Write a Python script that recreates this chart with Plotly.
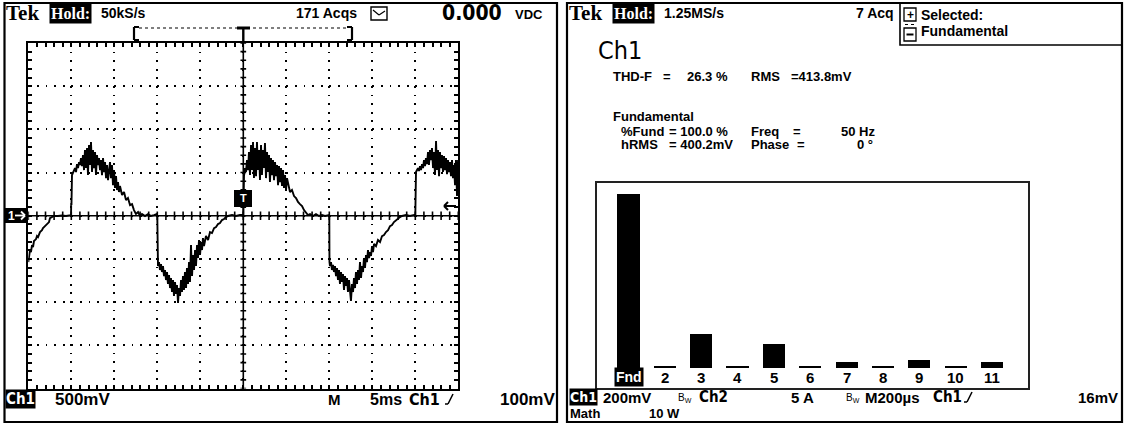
import plotly.graph_objects as go

W, H = 1124, 425
FONT = "Liberation Sans"
SERIF = "Liberation Serif"
NARROW = "Liberation Sans Narrow, DejaVu Sans Condensed, Liberation Sans"

# ---------------- data: scope trace (time ms, voltage mV) ----------------
seg_tail = [(0.00, -536), (0.08, -466), (0.20, -397), (0.31, -420), (0.43, -339), (0.55, -362),
            (0.66, -293), (0.90, -270), (1.01, -235), (1.13, -247), (1.36, -189), (1.59, -166),
            (1.71, -143), (1.94, -120), (2.17, -96), (2.41, -73), (2.52, -27), (2.76, -15),
            (2.99, -3), (3.45, -3), (3.92, 2), (4.38, -3), (4.91, 8)]

seg_pos1 = [(4.97, 8), (4.99, 147), (5.02, 124), (5.08, 471), (5.20, 506), (5.31, 529), (5.43, 552),
            (5.55, 506), (5.66, 598), (5.78, 552), (5.90, 621), (6.01, 587), (6.13, 668), (6.24, 575),
            (6.36, 702), (6.48, 529), (6.59, 760), (6.71, 552), (6.83, 783), (6.94, 471), (7.06, 818),
            (7.17, 587), (7.29, 853), (7.41, 506), (7.52, 760), (7.64, 552), (7.76, 737), (7.87, 471),
            (7.99, 702), (8.10, 587), (8.22, 668), (8.34, 529), (8.45, 645), (8.57, 471), (8.69, 668),
            (8.80, 506), (8.92, 621), (9.04, 436), (9.15, 587), (9.27, 413), (9.39, 552), (9.50, 621),
            (9.62, 436), (9.73, 587), (9.85, 355), (9.97, 529), (10.08, 321), (10.20, 459),
            (10.31, 298), (10.43, 390), (10.55, 275), (10.66, 344), (10.90, 240), (11.13, 275),
            (11.36, 182), (11.59, 205), (11.83, 124), (12.06, 135), (12.29, 66), (12.52, 20),
            (12.76, 43), (12.99, -3), (13.22, 20), (13.57, -3), (13.92, 20), (14.27, -3),
            (14.62, 8), (14.94, 20)]

seg_neg1 = [(15.00, -3), (15.02, -536), (15.08, -582), (15.20, -536), (15.31, -628), (15.43, -559),
            (15.55, -651), (15.66, -582), (15.78, -698), (15.90, -628), (16.01, -744), (16.13, -651),
            (16.24, -790), (16.36, -686), (16.48, -837), (16.59, -721), (16.71, -883), (16.83, -744),
            (16.94, -929), (17.06, -767), (17.17, -906), (17.29, -802), (17.41, -1010), (17.52, -837),
            (17.64, -929), (17.76, -744), (17.87, -883), (17.99, -698), (18.10, -860), (18.22, -651),
            (18.34, -837), (18.45, -605), (18.57, -790), (18.69, -536), (18.80, -767), (18.92, -339),
            (19.04, -698), (19.15, -455), (19.27, -628), (19.39, -397), (19.50, -582), (19.62, -339),
            (19.73, -489), (19.85, -281), (19.97, -455), (20.08, -304), (20.20, -397), (20.31, -258),
            (20.43, -351), (20.66, -235), (20.90, -281), (21.13, -189), (21.36, -200), (21.60, -143),
            (21.83, -131), (22.06, -96), (22.29, -85), (22.52, -50), (22.76, -38), (22.99, -15),
            (23.22, -3), (23.69, 8), (24.15, -3), (24.62, 8), (24.94, 8)]

seg_pos2 = [(25.00, -3), (25.02, 411), (25.08, 459), (25.20, 552), (25.31, 506), (25.43, 645),
            (25.55, 529), (25.66, 737), (25.78, 471), (25.90, 818), (26.01, 529), (26.13, 853),
            (26.24, 436), (26.36, 783), (26.48, 459), (26.59, 853), (26.71, 529), (26.83, 760),
            (26.94, 413), (27.06, 818), (27.17, 471), (27.29, 760), (27.41, 552), (27.52, 841),
            (27.64, 436), (27.76, 737), (27.87, 506), (27.99, 702), (28.10, 390), (28.22, 668),
            (28.34, 471), (28.45, 645), (28.57, 413), (28.69, 621), (28.80, 459), (28.92, 587),
            (29.04, 355), (29.15, 575), (29.27, 390), (29.39, 552), (29.50, 344), (29.62, 529),
            (29.73, 321), (29.85, 471), (29.97, 298), (30.08, 436), (30.20, 367), (30.43, 275),
            (30.66, 298), (30.90, 228), (31.13, 205), (31.36, 159), (31.59, 135), (31.83, 112),
            (32.06, 66), (32.29, 43), (32.52, 8), (32.76, 20), (33.10, -3), (33.45, 20), (33.80, -3),
            (34.15, 8), (34.50, -3), (34.97, 8)]

seg_neg2 = [(35.00, -3), (35.02, -536), (35.08, -582), (35.20, -536), (35.31, -628), (35.43, -570),
            (35.55, -651), (35.66, -582), (35.78, -698), (35.90, -605), (36.01, -744), (36.13, -628),
            (36.24, -790), (36.36, -651), (36.48, -767), (36.59, -674), (36.71, -860), (36.83, -698),
            (36.94, -813), (37.06, -721), (37.17, -883), (37.29, -744), (37.41, -860), (37.52, -987),
            (37.64, -790), (37.76, -883), (37.87, -721), (37.99, -837), (38.10, -651), (38.22, -790),
            (38.34, -628), (38.45, -744), (38.57, -536), (38.69, -721), (38.80, -582), (38.92, -651),
            (39.03, -489), (39.15, -605), (39.27, -455), (39.38, -536), (39.50, -397), (39.62, -489),
            (39.73, -420), (39.85, -466), (39.97, -351), (40.08, -420), (40.20, -327), (40.43, -351),
            (40.66, -281), (40.90, -304), (41.13, -235), (41.36, -223), (41.59, -189), (41.83, -166),
            (42.06, -120), (42.29, -108), (42.52, -73), (42.76, -50), (42.99, -27), (43.22, -15),
            (43.45, -3), (43.92, 8), (44.38, -3), (44.85, 8)]

seg_pos3 = [(45.00, -3), (45.02, 471), (45.08, 506), (45.20, 529), (45.31, 552), (45.43, 518),
            (45.55, 575), (45.66, 529), (45.78, 598), (45.90, 552), (46.01, 645), (46.13, 575),
            (46.24, 668), (46.36, 598), (46.48, 737), (46.59, 587), (46.71, 760), (46.83, 645),
            (46.94, 783), (47.06, 552), (47.17, 737), (47.29, 471), (47.41, 864), (47.52, 529),
            (47.64, 760), (47.76, 459), (47.87, 737), (47.99, 552), (48.10, 702), (48.22, 506),
            (48.34, 691), (48.45, 529), (48.57, 668), (48.69, 482), (48.80, 645), (48.92, 506),
            (49.03, 621), (49.15, 459), (49.27, 645), (49.38, 436), (49.50, 587), (49.62, 355),
            (49.73, 645), (49.85, 228), (49.97, 645), (50.00, 298)]

# ---------------- data: harmonic spectrum (% of fundamental) ----------------
harmonic_order = [1, 2, 3, 4, 5, 6, 7, 8, 9, 10, 11]
harmonic_labels = ["Fnd", "2", "3", "4", "5", "6", "7", "8", "9", "10", "11"]
harmonic_pct = [100, 0.9, 19.5, 0.9, 13.8, 0.9, 3.4, 0.9, 4.6, 0.9, 3.4]

# ---------------- layout constants (pixels) ----------------
GRID_L, GRID_R, GRID_T, GRID_B = 28.3, 458.3, 43.0, 388.5
BAR_L, BAR_R, BAR_T, BAR_B = 597, 1028, 183, 388
T_SPAN, V_HALF = 50, 2000


def px(x):
    return x / W


def py(y):
    return 1 - y / H


fig = go.Figure()

trace = seg_tail + seg_pos1 + seg_neg1 + seg_pos2 + seg_neg2 + seg_pos3
fig.add_trace(go.Scatter(x=[p[0] for p in trace], y=[p[1] for p in trace], mode="lines",
                         line=dict(color="black", width=1.9), xaxis="x", yaxis="y",
                         hoverinfo="skip", showlegend=False))

# centre cross with tick marks
cx, cy = [], []
cx += [T_SPAN / 2, T_SPAN / 2, None]
cy += [-V_HALF, V_HALF, None]
cx += [0, T_SPAN, None]
cy += [0, 0, None]
for k in range(-20, 21):
    cx += [T_SPAN / 2 - 0.33, T_SPAN / 2 + 0.33, None]
    cy += [k * 100, k * 100, None]
for k in range(0, 51):
    cx += [k, k, None]
    cy += [-50, 50, None]
fig.add_trace(go.Scatter(x=cx, y=cy, mode="lines", line=dict(color="black", width=1.6),
                         xaxis="x", yaxis="y", hoverinfo="skip", showlegend=False))

fig.add_trace(go.Bar(x=harmonic_order, y=harmonic_pct, marker=dict(color="black", line=dict(width=0)),
                     width=0.61, xaxis="x2", yaxis="y2", hoverinfo="skip", showlegend=False))

axis_common = dict(showticklabels=False, ticks="inside", ticklen=4, tickwidth=1.6, tickcolor="black",
                   showline=True, linecolor="black", linewidth=1.8, mirror="ticks",
                   showgrid=True, gridcolor="black", gridwidth=1.8, griddash="1.8px,6.8px",
                   zeroline=False, fixedrange=True)

slot = 36.35
x2_left = 1 - (628.5 - BAR_L) / slot
x2_right = x2_left + (BAR_R - BAR_L) / slot
ppu = (368 - 194) / 100.0
y2_bottom = -(BAR_B - 368) / ppu
y2_top = (368 - BAR_T) / ppu

fig.update_layout(
    width=W, height=H, margin=dict(l=0, r=0, t=0, b=0),
    paper_bgcolor="white", plot_bgcolor="white", bargap=0,
    xaxis=dict(domain=[px(GRID_L), px(GRID_R)], range=[0, T_SPAN], dtick=5, tick0=0,
               minor=dict(dtick=1, ticks="inside", ticklen=4, tickcolor="black", tickwidth=1.6, showgrid=False),
               **axis_common),
    yaxis=dict(domain=[py(GRID_B), py(GRID_T)], range=[-V_HALF, V_HALF], dtick=500, tick0=0,
               minor=dict(dtick=100, ticks="inside", ticklen=4, tickcolor="black", tickwidth=1.6, showgrid=False),
               **axis_common),
    xaxis2=dict(domain=[px(BAR_L), px(BAR_R)], range=[x2_left, x2_right], showticklabels=False,
                ticks="", showgrid=False, zeroline=False, showline=True, mirror=True,
                linecolor="#222", linewidth=1.5, fixedrange=True, anchor="y2"),
    yaxis2=dict(domain=[py(BAR_B), py(BAR_T)], range=[y2_bottom, y2_top], showticklabels=False,
                ticks="", showgrid=False, zeroline=False, showline=True, mirror=True,
                linecolor="#222", linewidth=1.5, fixedrange=True, anchor="x2"),
)

shapes = []


def rect(x0, y0, x1, y1, fill=None, lw=2, color="black"):
    shapes.append(dict(type="rect", xref="paper", yref="paper", x0=px(x0), x1=px(x1), y0=py(y1), y1=py(y0),
                       line=dict(color=color, width=lw), fillcolor=fill if fill else "rgba(0,0,0,0)",
                       layer="above"))


def seg(x0, y0, x1, y1, lw=1.5, dash=None, color="black"):
    shapes.append(dict(type="line", xref="paper", yref="paper", x0=px(x0), x1=px(x1), y0=py(y0), y1=py(y1),
                       line=dict(color=color, width=lw, dash=dash), layer="above"))


annots = []


def txt(x, y, s, size=13, color="black", bg=None, xanchor="left", family=FONT, bold=True, pad=0):
    annots.append(dict(x=px(x), y=py(y), xref="paper", yref="paper", text=("<b>%s</b>" % s) if bold else s,
                       showarrow=False, xanchor=xanchor, yanchor="middle",
                       font=dict(family=family, size=size, color=color),
                       bgcolor=bg if bg else "rgba(0,0,0,0)", borderpad=pad))


def slope(x, y):
    # rising-edge trigger symbol
    seg(x, y + 5, x + 3, y + 5, lw=1.5)
    seg(x + 3, y + 5, x + 8, y - 5, lw=1.5)


def arrow(x0, x1, y, color="black", lw=2):
    # horizontal arrow from x0 to x1 (head at x1)
    seg(x0, y, x1, y, lw=lw, color=color)
    d = 4 if x1 > x0 else -4
    seg(x1 - d, y - 4, x1, y, lw=lw, color=color)
    seg(x1 - d, y + 4, x1, y, lw=lw, color=color)


# panel borders
rect(4.5, 3, 557, 422, lw=2.2)
rect(567, 3, 1122, 422, lw=2.2)

# ---------------- left panel ----------------
txt(5, 13, "Tek", size=21, family=SERIF)
txt(49, 13, "Hold:", size=16, color="white", bg="black", family=SERIF, pad=1)
txt(100, 13, "50kS/s", size=14)
txt(295, 13, "171 Acqs", size=14)
rect(371, 7, 387, 20, lw=1.4)
seg(373, 10, 379, 15, lw=1.2)
seg(379, 15, 385, 11, lw=1.2)
txt(441, 13, "0.000", size=21, family=NARROW)
txt(514, 14, "VDC", size=13)

# trigger-window bracket
seg(134, 27, 134, 40, lw=2.2)
seg(134, 27, 139, 27, lw=2)
seg(134, 40, 139, 40, lw=2)
seg(352, 27, 352, 40, lw=2.2)
seg(347, 27, 352, 27, lw=2)
seg(347, 40, 352, 40, lw=2)
seg(139, 28, 347, 28, lw=1.2, dash="dot")
seg(237, 28, 250, 28, lw=3)
seg(243.3, 28, 243.3, 43, lw=2.4)

# channel marker and trigger markers
rect(5, 208, 27, 223, fill="black", lw=0)
txt(7, 215.5, "1", size=12, color="white")
arrow(15, 25, 215.5, color="white", lw=1.8)
rect(234, 190, 252, 207, fill="black", lw=0)
txt(243, 198, "T", size=11, color="white", xanchor="center")
arrow(456, 444, 206, lw=2)

txt(5, 399, "Ch1", size=15, color="white", bg="black", family=NARROW)
txt(54, 399, "500mV", size=17)
txt(327, 399, "M", size=15)
txt(369, 399, "5ms", size=16)
txt(408, 399, "Ch1", size=16, family=NARROW)
slope(445, 399)
txt(556, 399, "100mV", size=17, xanchor="right")

# ---------------- right panel ----------------
txt(568, 13, "Tek", size=21, family=SERIF)
txt(612, 13, "Hold:", size=16, color="white", bg="black", family=SERIF, pad=1)
txt(663, 13, "1.25MS/s", size=14)
txt(855, 13, "7 Acq", size=14)

rect(900, 3, 1122, 45, lw=1.6)
rect(904, 8, 916, 21, lw=1.3)
txt(910, 14.5, "+", size=12, xanchor="center")
rect(904, 28, 916, 41, lw=1.3)
seg(906.5, 34.5, 913.5, 34.5, lw=2)
seg(905, 24.5, 915, 24.5, lw=1, dash="dot")
txt(920, 15, "Selected:", size=14)
txt(920, 31, "Fundamental", size=14)

txt(597, 50, "Ch1", size=25, family=NARROW, bold=False)

txt(612, 77, "THD-F", size=13)
txt(662, 77, "=", size=13)
txt(686, 77, "26.3 %", size=13)
txt(750, 77, "RMS", size=13)
txt(790, 77, "=413.8mV", size=13)

txt(612, 117, "Fundamental", size=13)
txt(620, 131, "%Fund", size=13)
txt(668, 131, "= 100.0 %", size=13)
txt(750, 131, "Freq", size=13)
txt(792, 131, "=", size=13)
txt(840, 131, "50 Hz", size=13)
txt(620, 144, "hRMS", size=13)
txt(668, 144, "= 400.2mV", size=13)
txt(750, 144, "Phase", size=13)
txt(796, 144, "=", size=13)
txt(856, 144, "0 °", size=13)

# harmonic labels inside the spectrum box
for h, lab in zip(harmonic_order, harmonic_labels):
    if lab == "Fnd":
        annots.append(dict(x=h, y=-5.4, xref="x2", yref="y2", text="<b>Fnd</b>", showarrow=False,
                           font=dict(family=FONT, size=14, color="white"), bgcolor="black", borderpad=1))
    else:
        annots.append(dict(x=h, y=-5.4, xref="x2", yref="y2", text="<b>%s</b>" % lab, showarrow=False,
                           font=dict(family=FONT, size=15, color="black")))

txt(569, 397, "Ch1", size=14, color="white", bg="black", family=NARROW)
txt(602, 397, "200mV", size=15)
txt(677, 398, "B<sub>W</sub>", size=10, bold=False)
txt(698, 397, "Ch2", size=15, family=NARROW)
txt(790, 397, "5 A", size=15)
txt(845, 398, "B<sub>W</sub>", size=10, bold=False)
txt(864, 397, "M200µs", size=15)
txt(932, 397, "Ch1", size=15, family=NARROW)
slope(964, 397)
txt(1119, 397, "16mV", size=15, xanchor="right")
txt(569, 413, "Math", size=13)
txt(648, 413, "10 W", size=13)

fig.update_layout(shapes=shapes, annotations=annots)
fig.write_html("out.html", config={"displayModeBar": False},
               post_script="document.body.style.margin='0';document.body.style.overflow='hidden';")
